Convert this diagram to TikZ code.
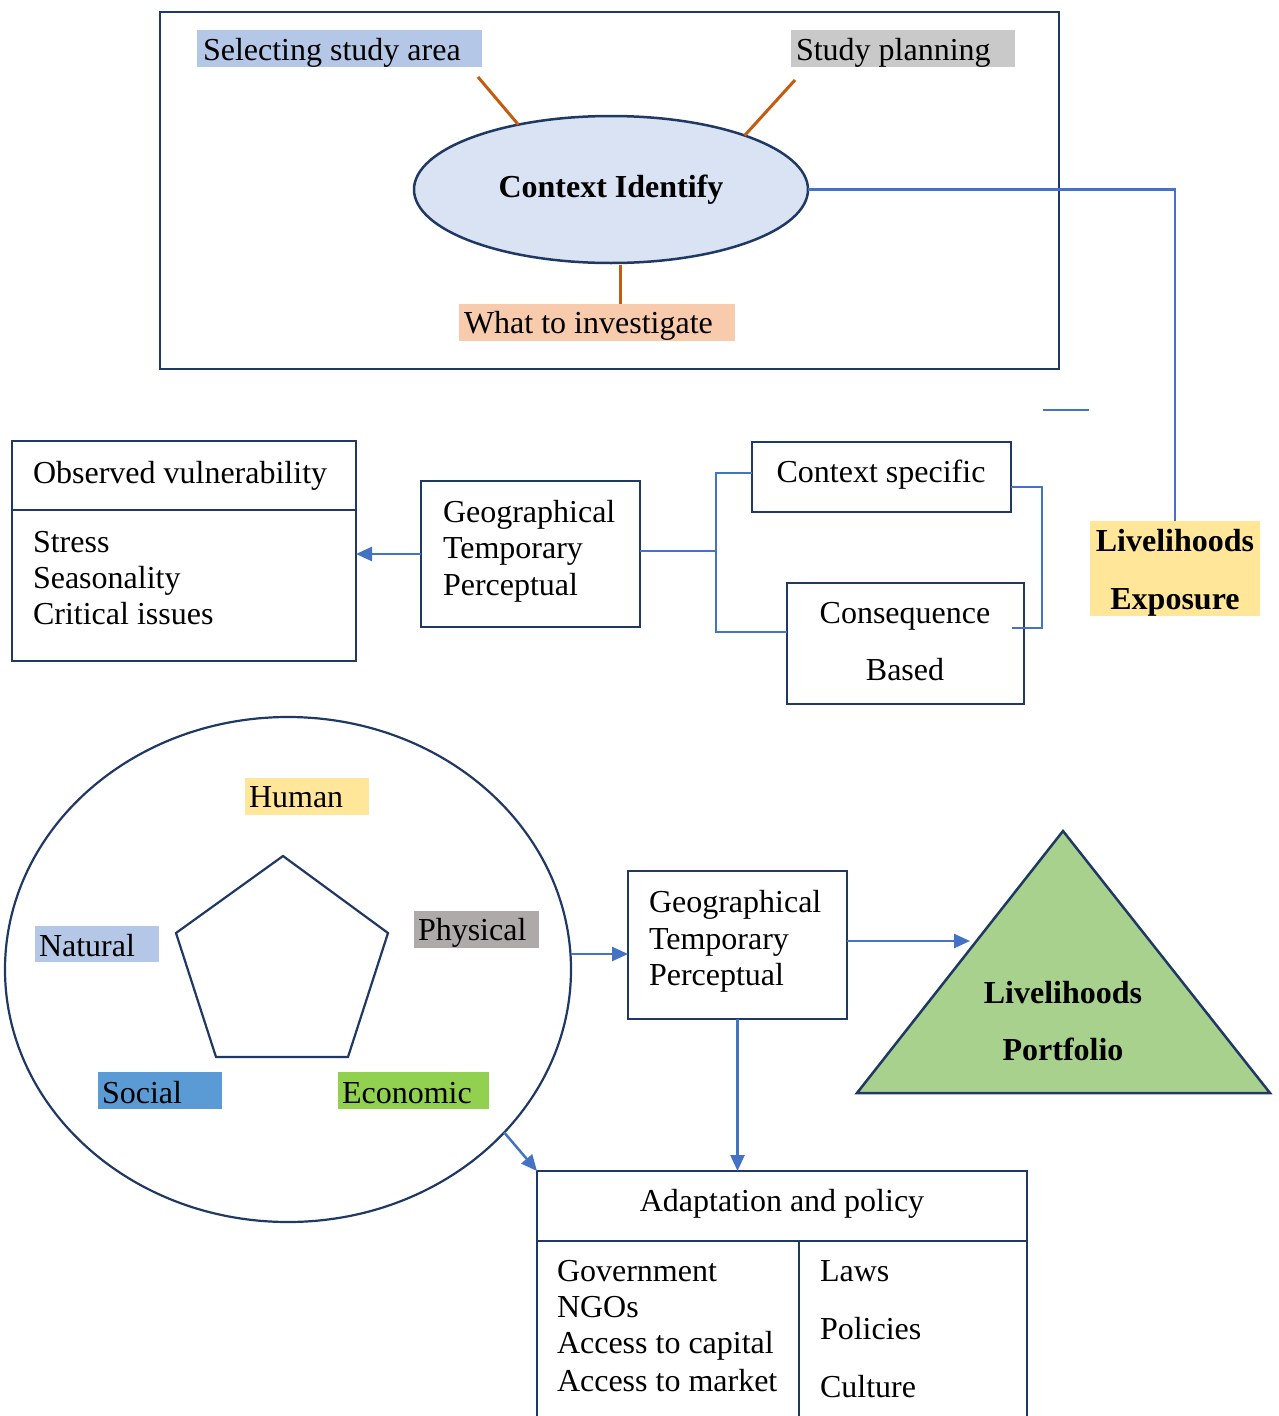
\documentclass[tikz,border=0pt]{standalone}
\usepackage{fontspec}
\setmainfont{Liberation Serif}
\usetikzlibrary{arrows.meta,shapes.geometric,calc}

\definecolor{navy}{HTML}{1F3864}
\definecolor{linkblue}{HTML}{4472C4}
\definecolor{rust}{HTML}{C55A11}
\definecolor{ctxfill}{HTML}{DAE3F3}
\definecolor{paleblue}{HTML}{B4C7E7}
\definecolor{palegray}{HTML}{C9C9C9}
\definecolor{peach}{HTML}{F8CBAD}
\definecolor{sand}{HTML}{FFE699}
\definecolor{stone}{HTML}{AEAAAA}
\definecolor{midblue}{HTML}{5B9BD5}
\definecolor{lime}{HTML}{92D050}
\definecolor{sage}{HTML}{A9D18E}

\begin{document}
\begin{tikzpicture}[x=1pt, y=-1pt,
  font=\fontsize{32}{37}\selectfont,
  box/.style={draw=navy, line width=2.5pt, rectangle, inner sep=0pt, outer sep=0pt, anchor=north west},
  tag/.style={rectangle, inner sep=0pt, outer sep=0pt, anchor=north west},
  txt/.style={inner sep=0pt, outer sep=0pt, anchor=base west},
  ctxt/.style={inner sep=0pt, outer sep=0pt, anchor=base},
  conn/.style={draw=linkblue, line width=2.5pt},
  arr/.style={conn, -{Triangle[length=16pt,width=14pt]}},
  tie/.style={draw=rust, line width=3pt}]

\path[use as bounding box, clip] (0,0) rectangle (1278,1416);

% ---------- context identification ----------
\node[box, minimum width=899pt, minimum height=357pt] (frame) at (160,12) {};
\node[tag, fill=paleblue, minimum width=285pt, minimum height=37pt] (selbg) at (197,30) {};
\node[txt] (sel) at (203,60) {Selecting study area};
\node[tag, fill=palegray, minimum width=224pt, minimum height=37pt] (planbg) at (791,30) {};
\node[txt] (plan) at (796,60) {Study planning};
\node[ellipse, draw=navy, fill=ctxfill, line width=2.5pt, inner sep=0pt, outer sep=0pt,
      minimum width=394pt, minimum height=147pt, font=\fontsize{32}{37}\selectfont\bfseries]
      (ctx) at (611,189.5) {Context Identify};
\node[tag, fill=peach, minimum width=276pt, minimum height=37pt] (invbg) at (459,304) {};
\node[txt] (inv) at (464,333) {What to investigate};

% short ties from the three labels to the ellipse
\coordinate (t1) at (478,77);
\coordinate (t2) at (795,80);
\draw[tie] (t1) -- (ctx.145);
\draw[tie] (t2) -- (ctx.22);
\draw[tie] ([xshift=9pt,yshift=-2pt]ctx.south) -- ([xshift=9pt]ctx.south |- invbg.north);

% ---------- exposure ----------
\node[tag, fill=sand, minimum width=170pt, minimum height=95pt] (lexp) at (1090,521) {};
\node[ctxt, font=\fontsize{32}{37}\selectfont\bfseries] (lexp1) at (1175,551) {Livelihoods};
\node[ctxt, font=\fontsize{32}{37}\selectfont\bfseries] (lexp2) at (1175,609) {Exposure};
\draw[conn] (ctx.east) -| (lexp.north);

\coordinate (s1) at (1043,410);
\coordinate (s2) at (1089,410);
\draw[conn] (s1) -- (s2);

% ---------- sensitivity ----------
\node[box, minimum width=259pt, minimum height=70pt] (cs) at (752,442) {};
\node[ctxt] (cstext) at (881,482) {Context specific};
\node[box, minimum width=237pt, minimum height=121pt] (cb) at (787,583) {};
\node[ctxt] (cb1) at (905,623) {Consequence};
\node[ctxt] (cb2) at (905,680) {Based};

\node[box, minimum width=219pt, minimum height=146pt] (geo1) at (421,481) {};
\node[txt] (g11) at (443,522) {Geographical};
\node[txt] (g12) at (443,558) {Temporary};
\node[txt] (g13) at (443,595) {Perceptual};

\coordinate (jn) at (716,551);
\draw[conn] ([yshift=3pt]geo1.east) -- (jn);
\draw[conn] ([yshift=4pt]cs.west) -| (jn) |- ([yshift=11.5pt]cb.west);
\coordinate (rj) at (1042,487);
\draw[conn] ([yshift=-10pt]cs.east) -- (rj) |- ([xshift=-12pt,yshift=15.5pt]cb.east);

\node[box, minimum width=344pt, minimum height=220pt] (ovb) at (12,441) {};
\draw[draw=navy, line width=2.5pt] ([yshift=-69pt]ovb.north west) -- ([yshift=-69pt]ovb.north east);
\node[txt] (ov0) at (33,483) {Observed vulnerability};
\node[txt] (ov1) at (33,552) {Stress};
\node[txt] (ov2) at (33,588) {Seasonality};
\node[txt] (ov3) at (33,624) {Critical issues};
\draw[arr] (geo1.west) -- (ovb.east |- geo1.west);

% ---------- capitals ----------
\node[ellipse, draw=navy, line width=2.2pt, inner sep=0pt, outer sep=0pt,
      minimum width=566pt, minimum height=505pt] (cap) at (288,969.5) {};
\coordinate (p1) at (283,856);
\coordinate (p2) at (388,933);
\coordinate (p3) at (348,1057);
\coordinate (p4) at (216,1057);
\coordinate (p5) at (176,933);
\draw[draw=navy, line width=2.2pt] (p1) -- (p2) -- (p3) -- (p4) -- (p5) -- cycle;

\node[tag, fill=sand, minimum width=124pt, minimum height=37pt] (humbg) at (245,778) {};
\node[txt] (hum) at (249,807) {Human};
\node[tag, fill=paleblue, minimum width=124pt, minimum height=36pt] (natbg) at (35,926) {};
\node[txt] (nat) at (39,956) {Natural};
\node[tag, fill=stone, minimum width=125pt, minimum height=37pt] (phybg) at (414,911) {};
\node[txt] (phy) at (418,940) {Physical};
\node[tag, fill=midblue, minimum width=124pt, minimum height=37pt] (socbg) at (98,1072) {};
\node[txt] (soc) at (102,1103) {Social};
\node[tag, fill=lime, minimum width=151pt, minimum height=37pt] (ecobg) at (338,1072) {};
\node[txt] (eco) at (342,1103) {Economic};

% ---------- portfolio ----------
\node[box, minimum width=219pt, minimum height=148pt] (geo2) at (628,871) {};
\node[txt] (g21) at (649,912) {Geographical};
\node[txt] (g22) at (649,949) {Temporary};
\node[txt] (g23) at (649,985) {Perceptual};
\draw[arr] ([yshift=15.5pt]cap.east) -- ([yshift=-9pt]geo2.west);

\coordinate (apex) at (1063,831);
\coordinate (bl) at (857,1093);
\coordinate (br) at (1270,1093);
\draw[draw=navy, fill=sage, line width=2.5pt, line join=miter] (apex) -- (br) -- (bl) -- cycle;
\node[ctxt, font=\fontsize{32}{37}\selectfont\bfseries] (lp1) at (1063,1003) {Livelihoods};
\node[ctxt, font=\fontsize{32}{37}\selectfont\bfseries] (lp2) at (1063,1060) {Portfolio};
\coordinate (tin) at (970,941);
\draw[arr] ([yshift=4pt]geo2.east) -- (tin);

% ---------- adaptation ----------
\node[box, minimum width=490pt, minimum height=290pt] (tbl) at (537,1171) {};
\draw[draw=navy, line width=2.5pt] ([yshift=-70pt]tbl.north west) -- ([yshift=-70pt]tbl.north east);
\draw[draw=navy, line width=2.5pt] ([xshift=262pt,yshift=-70pt]tbl.north west) -- ([xshift=262pt]tbl.south west);
\node[ctxt] (tt) at (782,1211) {Adaptation and policy};
\node[txt] (a1) at (557,1281) {Government};
\node[txt] (a2) at (557,1317) {NGOs};
\node[txt] (a3) at (557,1353) {Access to capital};
\node[txt] (a4) at (557,1391) {Access to market};
\node[txt] (b1) at (820,1281) {Laws};
\node[txt] (b2) at (820,1339) {Policies};
\node[txt] (b3) at (820,1397) {Culture};

\draw[arr] (geo2.south) -- (geo2.south |- tbl.north);
\draw[arr] (cap.-37.8) -- (tbl.north west);

\end{tikzpicture}
\end{document}
